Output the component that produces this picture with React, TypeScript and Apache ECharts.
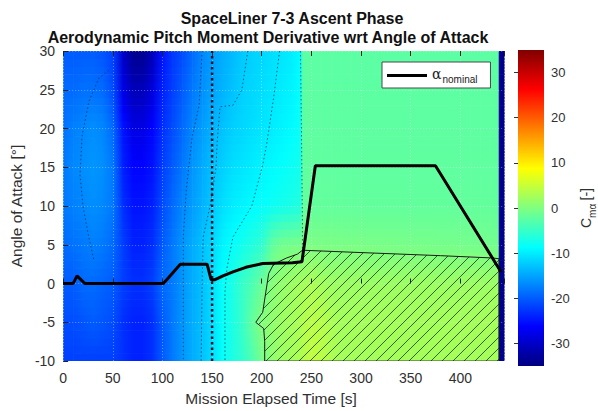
import React, { useEffect, useRef } from "react";
import * as echarts from "echarts";

const TITLE_1 = "SpaceLiner 7-3 Ascent Phase";
const TITLE_2 = "Aerodynamic Pitch Moment Derivative wrt Angle of Attack";
const X_NAME = "Mission Elapsed Time [s]";
const Y_NAME = "Angle of Attack [°]";

const xTicks = [0, 50, 100, 150, 200, 250, 300, 350, 400];
const yTicks = [-10, -5, 0, 5, 10, 15, 20, 25, 30];
const cbTicks = [-30, -20, -10, 0, 10, 20, 30];

const X_MAX = 444;
const CM_MIN = -35;
const CM_MAX = 35;

// MATLAB "jet" colormap anchors
const JET = ["#000080", "#0000ff", "#0080ff", "#00ffff", "#80ff80", "#ffff00", "#ff8000", "#ff0000", "#800000"];

// Cm_alpha grid: gridX (time, s) × gridY (alpha, deg)
const gridX = [0, 10, 20, 30, 40, 50, 60, 70, 80, 90, 100, 110, 120, 130, 140, 150, 160, 170, 180, 190, 200, 210, 220, 230, 239, 241, 250, 260, 270, 280, 290, 300, 310, 320, 330, 340, 350, 360, 370, 380, 390, 400, 410, 420, 430, 438, 439, 444];
const gridY = [-10, -5, 0, 5, 10, 15, 20, 25, 30];

const cmAtM10 = [-22, -22, -22, -22, -22, -22, -23, -24, -24, -23, -20, -18, -16, -14.5, -13, -11, -8.5, -7, -5.5, -3.5, -0.7, 1, 2, 2.5, 3, 3.5, 4.5, 4, 3, 2.5, 2.5, 2.5, 2.5, 2.5, 2.5, 2.5, 2.5, 2.5, 2.5, 2.5, 2.5, 2.5, 2.5, 2.5, 2.5, 2.5, -34, -34];
const cmAtM5 = [-21, -21, -20.5, -20, -20.5, -21, -23, -24, -24, -23, -20, -18, -16, -14.5, -13, -11, -8.5, -7, -5, -2, 0.3, 1.2, 2, 2.5, 3, 3.5, 4, 3.8, 3, 2.5, 2.5, 2.5, 2.5, 2.5, 2.5, 2.5, 2.5, 2.5, 2.5, 2.5, 2.5, 2.5, 2.5, 2.5, 2.5, 2.5, -34, -34];
const cmAt0 = [-20, -20, -19, -19, -19.5, -20, -22, -23, -23, -22, -19, -18, -16, -14.5, -13, -11, -8.5, -7, -5, -3.5, -1.5, 0.5, 1.3, 2, 2.5, 2.5, 3, 2.5, 2, 2, 2, 2, 2, 2, 2, 2, 2, 2, 2, 2, 2, 2, 2, 2, 2, 2, -34, -34];
const cmAt5 = [-19, -18.5, -18, -17.5, -18, -19, -22, -24, -24, -23, -20, -18, -16, -14.5, -13, -11.5, -9.5, -8.5, -7.5, -6.5, -5.5, -2, -0.8, -0.6, -0.4, -0.3, -0.3, -0.3, -0.35, -0.4, -0.4, -0.4, -0.45, -0.5, -0.5, -0.55, -0.6, -0.6, -0.65, -0.7, -0.7, -0.75, -0.8, -0.85, -0.9, -1, -34, -34];
const cmAt10 = [-18, -17.5, -17, -16.5, -17, -18, -23, -25, -25, -24, -21, -19, -17, -15.5, -14, -12.5, -11, -10, -9.5, -9, -8.5, -8, -7.5, -7, -6.5, -2, -2, -2, -2, -2, -2, -2, -2, -2, -2, -2, -2, -2, -2, -2, -2, -2, -2, -2, -2, -2, -34, -34];
const cmAt15 = [-18, -17, -16.5, -16, -16.5, -18, -24, -26, -26, -25, -22, -20, -18, -16, -14.5, -13, -12, -11, -10.5, -10, -9.5, -9, -8.5, -8, -7.5, -2.2, -2.2, -2.2, -2.2, -2.2, -2.2, -2.2, -2.2, -2.2, -2.2, -2.2, -2.2, -2.2, -2.2, -2.2, -2.2, -2.2, -2.2, -2.2, -2.2, -2.2, -34, -34];
const cmAt20 = [-18.5, -17.5, -17, -16.5, -17, -19, -25, -28, -28, -26, -23, -21, -19, -17, -15.5, -14, -13, -12, -11.5, -11, -10.5, -10, -9.5, -9, -8, -2.3, -2.3, -2.3, -2.3, -2.3, -2.3, -2.3, -2.3, -2.3, -2.3, -2.3, -2.3, -2.3, -2.3, -2.3, -2.3, -2.3, -2.3, -2.3, -2.3, -2.3, -34, -34];
const cmAt25 = [-19, -19, -18.5, -18.5, -19, -21, -28, -31, -31, -28.5, -24, -22, -20, -18, -16.5, -15, -14, -13, -12, -11.5, -11, -10.5, -10, -9.5, -8.5, -2.4, -2.4, -2.4, -2.4, -2.4, -2.4, -2.4, -2.4, -2.4, -2.4, -2.4, -2.4, -2.4, -2.4, -2.4, -2.4, -2.4, -2.4, -2.4, -2.4, -2.4, -34, -34];
const cmAt30 = [-20, -20, -20, -20, -20.5, -22, -30, -34, -34, -31, -25, -22.5, -21, -19, -17, -15.5, -14.5, -13.5, -12.5, -12, -11.5, -11, -10.5, -10, -9, -2.5, -2.5, -2.5, -2.5, -2.5, -2.5, -2.5, -2.5, -2.5, -2.5, -2.5, -2.5, -2.5, -2.5, -2.5, -2.5, -2.5, -2.5, -2.5, -2.5, -2.5, -34, -34];
const cmRows = [cmAtM10, cmAtM5, cmAt0, cmAt5, cmAt10, cmAt15, cmAt20, cmAt25, cmAt30];

// nominal angle of attack trajectory
const alphaT = [0, 10, 14, 22, 101, 118, 145, 149, 153, 161, 171, 184, 201, 231, 240.5, 254, 375, 441];
const alphaV = [0, 0, 1, 0, 0, 2.5, 2.5, 0.5, 0.5, 1, 1.5, 2.1, 2.6, 2.7, 2.8, 15.2, 15.2, 1.5];

// marked event time
const eventT = 150;

// unstable region (Cm_alpha > 0) outline
const hatchT = [212, 225, 236, 241, 300, 380, 433, 439, 439, 203, 203, 202, 194, 201, 204, 207];
const hatchV = [2.5, 3.3, 3.8, 4.3, 4.0, 3.6, 3.3, 3.2, -10, -10, -7.5, -5.8, -5.0, -3.7, -1.2, 1.3];

// iso-lines
const iso0T = [140, 137, 130, 124, 121, 121];
const iso0V = [30, 23, 19, 12, 6, -10];
const iso1T = [186, 180, 171, 158, 155, 154, 148, 141, 140, 139];
const iso1V = [30, 25, 23, 22.8, 18, 15, 10, 6, 0, -10];
const iso2T = [218, 212, 205, 201, 190, 171, 165, 163, 163];
const iso2V = [30, 24, 18, 15.3, 10, 6, 2, -1, -10];
const iso3T = [239, 240, 241, 241];
const iso3V = [30, 20, 7.6, 4.3];
const iso4T = [46, 36, 26, 19, 17, 20, 25, 31];
const iso4V = [27.5, 26.5, 23.5, 19, 14, 10, 6.5, 3];

const FONT = "'Liberation Sans', Arial, Helvetica, sans-serif";
const TXT = "#303030";
const NSUB = 5;

function hexRgb(h: string) {
  return [parseInt(h.slice(1, 3), 16), parseInt(h.slice(3, 5), 16), parseInt(h.slice(5, 7), 16)];
}
function jetColor(v: number) {
  const t = Math.min(1, Math.max(0, (v - CM_MIN) / (CM_MAX - CM_MIN)));
  const n = JET.length - 1;
  const p = t * n;
  const i = Math.min(n - 1, Math.floor(p));
  const f = p - i;
  const a = hexRgb(JET[i]);
  const b = hexRgb(JET[i + 1]);
  const c = a.map((x, k) => Math.round(x + (b[k] - x) * f));
  return `rgb(${c[0]},${c[1]},${c[2]})`;
}

const pairs = (t: number[], v: number[]) => t.map((x, i) => [x, v[i]]);

function buildOption() {
  const cells: number[][] = [];
  for (let r = 0; r < gridY.length - 1; r++) {
    for (let c = 0; c < gridX.length - 1; c++) {
      cells.push([gridX[c], gridY[r], c, r]);
    }
  }

  const isoStyle = { color: "rgba(30,40,60,0.7)", width: 1, type: [1.5, 2.5] as any };
  const isoSeries = (name: string, t: number[], v: number[]) => ({
    type: "line", name, data: pairs(t, v), showSymbol: false, symbol: "none", z: 4, lineStyle: isoStyle, silent: true,
  });

  return {
    animation: false,
    textStyle: { fontFamily: FONT },
    grid: [
      { left: 58, top: 51, width: 446, height: 315 },
      { left: 518, top: 50, width: 30, height: 316 },
    ],
    xAxis: [
      {
        type: "value", gridIndex: 0, min: 0, max: X_MAX, interval: 50, position: "bottom", z: 3,
        axisLine: { show: false },
        axisTick: { show: true, inside: true, length: 5, lineStyle: { color: "#222" } },
        axisLabel: {
          fontSize: 14, color: TXT, margin: 10, fontFamily: FONT,
          formatter: (v: number) => (xTicks.includes(v) ? String(v) : ""),
        },
        splitLine: { show: true, lineStyle: { color: "rgba(255,255,255,0.35)", width: 1, type: [1, 2] } },
        name: X_NAME, nameLocation: "middle", nameGap: 28,
        nameTextStyle: { fontSize: 15.5, color: TXT, fontFamily: FONT, padding: [0, 25, 0, 0] },
      },
      {
        type: "value", gridIndex: 0, min: 0, max: X_MAX, interval: 50, position: "top", z: 3,
        axisLine: { show: false },
        axisTick: { show: true, inside: true, length: 5, lineStyle: { color: "#222" } },
        axisLabel: { show: false },
        splitLine: { show: false },
      },
      { type: "value", gridIndex: 1, min: 0, max: 1, show: false },
    ],
    yAxis: [
      {
        type: "value", gridIndex: 0, min: -10, max: 30, interval: 5, z: 3,
        axisLine: { show: false },
        axisTick: { show: true, inside: true, length: 5, lineStyle: { color: "#222" } },
        axisLabel: {
          fontSize: 14, color: TXT, margin: 8, fontFamily: FONT,
          formatter: (v: number) => (yTicks.includes(v) ? String(v) : ""),
        },
        splitLine: { show: true, lineStyle: { color: "rgba(255,255,255,0.35)", width: 1, type: [1, 2] } },
        name: Y_NAME, nameLocation: "middle", nameGap: 37, nameRotate: 90,
        nameTextStyle: { fontSize: 15.5, color: TXT, fontFamily: FONT },
      },
      {
        type: "value", gridIndex: 1, min: CM_MIN, max: CM_MAX, position: "right", z: 3,
        axisLine: { show: false },
        axisTick: { show: true, inside: true, length: 4, customValues: cbTicks, lineStyle: { color: "#333" } },
        axisLabel: { fontSize: 13, color: TXT, margin: 7, fontFamily: FONT, customValues: cbTicks },
        splitLine: { show: false },
        name: "{c|C}{s|mα} {c|[-]}", nameLocation: "middle", nameGap: 35, nameRotate: 90,
        nameTextStyle: {
          color: TXT, fontFamily: FONT,
          rich: {
            c: { fontSize: 14, color: TXT, fontFamily: FONT, verticalAlign: "top", padding: [0, 0, 4, 0] },
            s: { fontSize: 10, color: TXT, fontFamily: FONT, verticalAlign: "bottom", padding: [6, 0, 0, 0] },
          },
        },
      },
    ],
    legend: {
      show: true, data: [{ name: "alphaNominal", icon: "rect" }], left: 382, top: 62, z: 20,
      orient: "vertical",
      backgroundColor: "#ffffff", borderColor: "#4a4a4a", borderWidth: 1, borderRadius: 0,
      padding: [5, 13, 4, 5], itemWidth: 40, itemHeight: 3, itemGap: 5,
      formatter: () => "{a|α}{s|nominal}",
      textStyle: {
        color: "#222",
        rich: {
          a: { fontSize: 14, fontFamily: "'DejaVu Serif', serif", color: "#222", verticalAlign: "top", padding: [0, 1, 3, 0] },
          s: { fontSize: 10, fontFamily: FONT, color: "#222", verticalAlign: "bottom", padding: [6, 0, 0, 0] },
        },
      },
    },
    graphic: [
      {
        type: "text", x: 292, y: 18, z: 20,
        style: { text: TITLE_1, font: `bold 16px ${FONT}`, fill: "#111", textAlign: "center", textVerticalAlign: "middle" },
      },
      {
        type: "text", x: 268, y: 37, z: 20,
        style: { text: TITLE_2, font: `bold 16px ${FONT}`, fill: "#111", textAlign: "center", textVerticalAlign: "middle" },
      },
    ],
    series: [
      {
        type: "custom", name: "cmField", xAxisIndex: 0, yAxisIndex: 0, z: 1, clip: true, silent: true,
        data: cells, encode: { x: 0, y: 1 },
        renderItem: (params: any, api: any) => {
          const c = api.value(2);
          const r = api.value(3);
          const p0 = api.coord([gridX[c], gridY[r]]);
          const p1 = api.coord([gridX[c + 1], gridY[r + 1]]);
          const children: any[] = [];
          for (let k = 0; k < NSUB; k++) {
            const fa = k / NSUB;
            const fb = (k + 1) / NSUB;
            const fm = (k + 0.5) / NSUB;
            const vl = cmRows[r][c] * (1 - fm) + cmRows[r + 1][c] * fm;
            const vr = cmRows[r][c + 1] * (1 - fm) + cmRows[r + 1][c + 1] * fm;
            const yTop = p0[1] + (p1[1] - p0[1]) * fb;
            const yBot = p0[1] + (p1[1] - p0[1]) * fa;
            children.push({
              type: "rect",
              shape: { x: p0[0], y: yTop, width: p1[0] - p0[0] + 0.6, height: yBot - yTop + 0.6 },
              style: {
                fill: {
                  type: "linear", x: 0, y: 0, x2: 1, y2: 0,
                  colorStops: [
                    { offset: 0, color: jetColor(vl) },
                    { offset: 1, color: jetColor(vr) },
                  ],
                },
              },
            });
          }
          return { type: "group", children };
        },
      },
      isoSeries("iso0", iso0T, iso0V),
      isoSeries("iso1", iso1T, iso1V),
      isoSeries("iso2", iso2T, iso2V),
      isoSeries("iso3", iso3T, iso3V),
      isoSeries("iso4", iso4T, iso4V),
      {
        type: "custom", name: "unstable", xAxisIndex: 0, yAxisIndex: 0, z: 5, clip: true, silent: true,
        data: [[hatchT[0], hatchV[0]]], encode: { x: 0, y: 1 },
        renderItem: (params: any, api: any) => {
          const pts = hatchT.map((t, i) => api.coord([t, hatchV[i]]));
          const STEP = 11;
          const sums = pts.map((p: number[]) => p[0] + p[1]);
          const kMin = Math.ceil(Math.min(...sums) / STEP) * STEP;
          const kMax = Math.max(...sums);
          const children: any[] = [];
          for (let k = kMin; k <= kMax; k += STEP) {
            const xs: number[] = [];
            for (let i = 0; i < pts.length; i++) {
              const a = pts[i];
              const b = pts[(i + 1) % pts.length];
              const fa = a[0] + a[1];
              const fb = b[0] + b[1];
              if ((fa <= k && fb > k) || (fb <= k && fa > k)) {
                const t = (k - fa) / (fb - fa);
                xs.push(a[0] + (b[0] - a[0]) * t);
              }
            }
            xs.sort((a, b) => a - b);
            for (let j = 0; j + 1 < xs.length; j += 2) {
              children.push({
                type: "line",
                shape: { x1: xs[j], y1: k - xs[j], x2: xs[j + 1], y2: k - xs[j + 1] },
                style: { stroke: "rgba(25,45,20,0.85)", lineWidth: 0.9 },
              });
            }
          }
          children.push({ type: "polygon", shape: { points: pts }, style: { fill: "none", stroke: "#1a1a1a", lineWidth: 1 } });
          return { type: "group", children };
        },
      },
      {
        type: "line", name: "event", data: [[eventT, -10], [eventT, 30]], showSymbol: false, symbol: "none", z: 6, silent: true,
        lineStyle: { color: "#14142a", width: 2.5, type: [2.5, 3] },
      },
      {
        type: "line", name: "alphaNominal", data: pairs(alphaT, alphaV), showSymbol: false, symbol: "none", z: 7,
        lineStyle: { color: "#000", width: 3 }, itemStyle: { color: "#000" },
      },
      {
        type: "custom", name: "colorbar", xAxisIndex: 2, yAxisIndex: 1, z: 1, silent: true,
        data: [[0, CM_MIN]], encode: { x: 0, y: 1 },
        renderItem: (params: any, api: any) => {
          const pb = api.coord([0, CM_MIN]);
          const pt = api.coord([1, CM_MAX]);
          const stops = JET.map((col, i) => ({ offset: 1 - i / (JET.length - 1), color: col })).reverse();
          return {
            type: "rect",
            shape: { x: pb[0], y: pt[1], width: pt[0] - pb[0], height: pb[1] - pt[1] },
            style: { fill: { type: "linear", x: 0, y: 0, x2: 0, y2: 1, colorStops: stops } },
          };
        },
      },
    ],
  };
}

export default function App() {
  const ref = useRef<HTMLDivElement>(null);
  useEffect(() => {
    if (!ref.current) return;
    const chart = echarts.init(ref.current, null, { renderer: "svg" });
    chart.setOption(buildOption() as any);
    return () => chart.dispose();
  }, []);
  return (
    <div
      ref={ref}
      style={{ position: "fixed", left: 0, top: 0, width: 598, height: 411, background: "#ffffff" }}
    />
  );
}
